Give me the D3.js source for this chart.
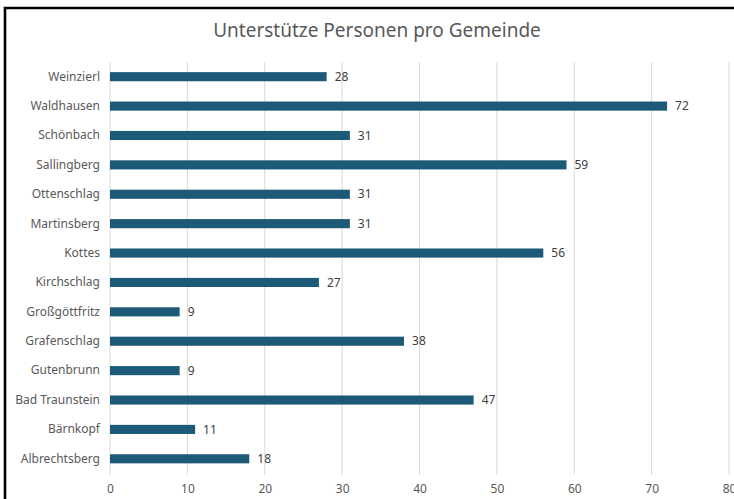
<!DOCTYPE html>
<html><head><meta charset="utf-8">
<script src="https://cdn.jsdelivr.net/npm/d3@7"></script>
<style>
html,body{margin:0;padding:0;background:#fff;overflow:hidden;}
svg{display:block;}
</style></head>
<body>
<script>
const categories = ["Weinzierl","Waldhausen","Schönbach","Sallingberg","Ottenschlag","Martinsberg","Kottes","Kirchschlag","Großgöttfritz","Grafenschlag","Gutenbrunn","Bad Traunstein","Bärnkopf","Albrechtsberg"];
const values = [28,72,31,59,31,31,56,27,9,38,9,47,11,18];
const tickValues = [0,10,20,30,40,50,60,70,80];
const title = "Unterstütze Personen pro Gemeinde";

const W = 734, H = 499;
const svg = d3.select("body").append("svg").attr("width", W).attr("height", H);
svg.append("rect").attr("width", W).attr("height", H).attr("fill", "#fff");

const x = d3.scaleLinear().domain([0, 80]).range([110, 729]);
const y = d3.scaleBand().domain(categories).range([62, 473.5]).paddingInner(0.69).paddingOuter(0.345);

// border
svg.append("path").attr("d", `M5,${H} V8 H${W}`).attr("fill","none").attr("stroke","#000").attr("stroke-width",2.6);

// title
svg.append("text").attr("x", 377).attr("y", 37).attr("text-anchor","middle")
  .attr("font-family","Noto Sans, sans-serif").attr("font-size",19).attr("fill","#595959").text(title);

// gridlines
svg.append("g").selectAll("line").data(tickValues).join("line")
  .attr("x1", d=>x(d)).attr("x2", d=>x(d)).attr("y1", 62).attr("y2", 475)
  .attr("stroke","#d9d9d9").attr("stroke-width",1);

// x axis
const xAxis = d3.axisBottom(x).tickValues(tickValues).tickSize(0).tickPadding(0);
const gx = svg.append("g").attr("transform","translate(0,484)").call(xAxis);
gx.select(".domain").remove();
gx.selectAll("text").attr("font-family","Noto Sans, sans-serif").attr("font-size",12).attr("fill","#595959").attr("dy","0.71em");

// y axis
const yAxis = d3.axisLeft(y).tickSize(0).tickPadding(10);
const gy = svg.append("g").attr("transform",`translate(${x(0)},0)`).call(yAxis);
gy.select(".domain").remove();
gy.selectAll("text").attr("font-family","Noto Sans, sans-serif").attr("font-size",12).attr("fill","#595959");

// bars
const data = categories.map((c,i)=>({c, v: values[i]}));
svg.append("g").selectAll("rect").data(data).join("rect")
  .attr("x", x(0)).attr("y", d=>y(d.c)).attr("width", d=>x(d.v)-x(0)).attr("height", y.bandwidth())
  .attr("fill","#1d5a78");

// value labels
svg.append("g").selectAll("text").data(data).join("text")
  .attr("x", d=>x(d.v)+8).attr("y", d=>y(d.c)+y.bandwidth()/2).attr("dy","0.35em")
  .attr("font-family","Noto Sans, sans-serif").attr("font-size",12).attr("fill","#404040")
  .text(d=>d.v);
</script>
</body></html>
